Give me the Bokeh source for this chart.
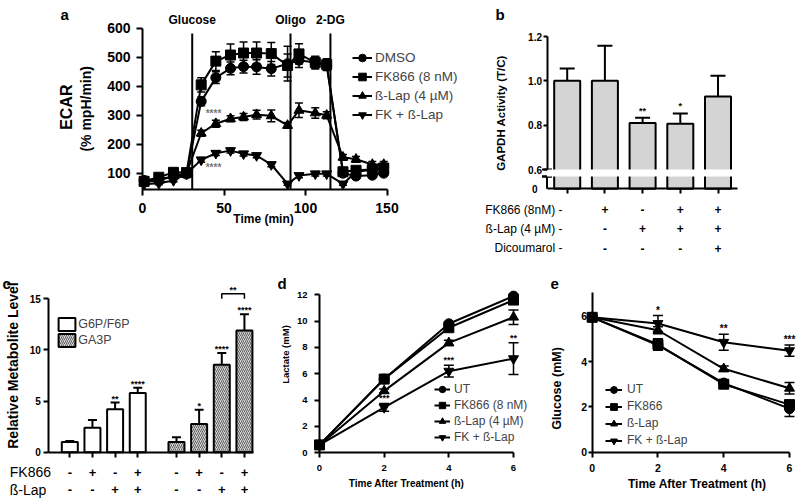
import numpy as np
from math import pi
from bokeh.plotting import figure
from bokeh.models import (Range1d, Label, Legend, LegendItem, Whisker, TeeHead,
                          ColumnDataSource, FixedTicker, NumeralTickFormatter)
from bokeh.layouts import row, column
from bokeh.embed import file_html
from bokeh.resources import INLINE

FONT = "Liberation Sans"

# ---------------- data ----------------
# panel a : ECAR time course
a_time = [1, 10, 19, 27, 36, 45, 54, 62, 70, 79, 89, 96, 106, 113, 123, 131, 141, 148]
a_dmso = [75, 80, 88, 97, 348, 430, 462, 468, 467, 461, 478, 490, 482, 472, 100, 90, 93, 100]
a_dmso_err = [8, 8, 8, 5, 15, 20, 22, 22, 25, 25, 60, 25, 20, 15, 8, 8, 8, 8]
a_fk = [72, 86, 103, 102, 405, 487, 508, 515, 515, 513, 472, 512, 482, 475, 105, 110, 113, 118]
a_fk_err = [8, 10, 8, 5, 25, 32, 38, 38, 38, 38, 40, 35, 22, 20, 12, 10, 10, 10]
a_blap = [70, 75, 90, 100, 238, 271, 288, 294, 302, 298, 265, 317, 308, 300, 155, 148, 130, 130]
a_blap_err = [5, 5, 5, 5, 10, 12, 10, 12, 15, 20, 10, 25, 18, 12, 10, 10, 10, 10]
a_fkbl = [62, 65, 75, 98, 146, 169, 178, 167, 161, 130, 63, 92, 98, 98, 63, 105, 112, 118]
a_fkbl_err = [5, 5, 5, 5, 8, 8, 8, 8, 8, 8, 5, 8, 8, 8, 5, 5, 5, 5]
a_labels = ["DMSO", "FK866 (8 nM)", "\u00df-Lap (4 \u00b5M)", "FK + \u00df-Lap"]
a_inject_time = [30.5, 90.8, 115.3]
a_inject_name = ["Glucose", "Oligo", "2-DG"]
a_xticks = [0, 50, 100, 150]
a_yticks = [100, 200, 300, 400, 500, 600]

# panel b : GAPDH activity
b_vals = [1.0, 1.0, 0.81, 0.806, 0.929]
b_err = [0.056, 0.158, 0.023, 0.047, 0.094]
b_stars = ["", "", "**", "*", ""]
b_rows = ["FK866 (8nM)", "\u00df-Lap (4 \u00b5M)", "Dicoumarol"]
b_signs = [["-", "+", "-", "+", "+"],
           ["-", "-", "+", "+", "+"],
           ["-", "-", "-", "-", "+"]]
b_yticks = [0.6, 0.8, 1.0, 1.2]

# panel c : metabolites
c_groups = ["G6P/F6P", "GA3P"]
c_g6p = [1.0, 2.4, 4.2, 5.8]
c_g6p_err = [0.1, 0.75, 0.65, 0.5]
c_ga3p = [1.0, 2.75, 8.55, 11.9]
c_ga3p_err = [0.45, 1.4, 1.15, 1.6]
c_stars = ["", "", "**", "****", "", "*", "****", "****"]
c_rows = ["FK866", "\u00df-Lap"]
c_signs = [["-", "+", "-", "+", "-", "+", "-", "+"],
           ["-", "-", "+", "+", "-", "-", "+", "+"]]
c_yticks = [0, 5, 10, 15]

# panel d : lactate
d_time = [0, 2, 4, 6]
d_ut = [0.6, 5.6, 9.8, 11.9]
d_ut_err = [0.1, 0.15, 0.15, 0.15]
d_fk = [0.6, 5.6, 9.5, 11.6]
d_fk_err = [0.1, 0.15, 0.15, 0.15]
d_blap = [0.6, 4.7, 8.35, 10.3]
d_blap_err = [0.1, 0.15, 0.2, 0.55]
d_fkbl = [0.6, 3.45, 6.2, 7.15]
d_fkbl_err = [0.1, 0.3, 0.45, 1.2]
d_stars = ["", "***", "***", "**"]
d_labels = ["UT", "FK866 (8 nM)", "\u00df-Lap (4 \u00b5M)", "FK + \u00df-Lap"]
d_yticks = [0, 2, 4, 6, 8, 10, 12]

# panel e : glucose
e_time = [0, 2, 4, 6]
e_ut = [5.95, 4.72, 3.05, 1.92]
e_ut_err = [0.05, 0.2, 0.15, 0.35]
e_fk = [5.95, 4.75, 3.0, 2.1]
e_fk_err = [0.05, 0.25, 0.15, 0.15]
e_blap = [5.95, 5.38, 3.68, 2.82]
e_blap_err = [0.05, 0.15, 0.12, 0.25]
e_fkbl = [5.95, 5.68, 4.85, 4.48]
e_fkbl_err = [0.05, 0.35, 0.35, 0.25]
e_stars = ["", "*", "**", "***"]
e_labels = ["UT", "FK866", "\u00df-Lap", "FK + \u00df-Lap"]
e_yticks = [0, 2, 4, 6]
time_xticks = [0, 2, 4, 6]

MARKERS = ["circle", "square", "triangle", "inverted_triangle"]


# ---------------- helpers ----------------
def lin(pa, va, pb, vb):
    k = (vb - va) / (pb - pa)
    return lambda px: va + (px - pa) * k


def make_fig(ox, oy, W, H, mx, my):
    # plotting frame covers the whole canvas; axes sit at fixed data locations
    p = figure(width=W, height=H,
               x_range=Range1d(mx(ox), mx(ox + W)), y_range=Range1d(my(oy + H), my(oy)),
               min_border_left=0, min_border_top=0, min_border_right=0, min_border_bottom=0,
               output_backend="svg", toolbar_location=None, tools="")
    p.outline_line_color = None
    p.xgrid.visible = False
    p.ygrid.visible = False
    p.background_fill_color = "white"
    p.border_fill_color = "white"
    return p


def style_axis(ax, ticks, size, tick_out, standoff, loc, bounds, show_labels=True):
    ax.fixed_location = loc
    ax.bounds = bounds
    ax.ticker = FixedTicker(ticks=list(ticks))
    ax.axis_line_width = 2
    ax.axis_line_color = "black"
    ax.major_tick_line_width = 2
    ax.major_tick_line_color = "black"
    ax.major_tick_out = tick_out
    ax.major_tick_in = 0
    ax.minor_tick_line_color = None
    ax.major_label_text_font = FONT
    ax.major_label_text_font_size = size
    ax.major_label_text_font_style = "bold"
    ax.major_label_text_color = "black" if show_labels else None
    ax.major_label_standoff = standoff


def put(p, x, y, text, size, bold=False, align="center", baseline="middle",
        angle=0.0, color="black", y_offset=0):
    p.add_layout(Label(x=x, y=y, text=text, text_font=FONT, text_font_size=size,
                       text_font_style="bold" if bold else "normal",
                       text_align=align, text_baseline=baseline, angle=angle,
                       text_color=color, y_offset=y_offset))


def whisker(p, x, lo, hi, head, lw=1.5, lower_head=True, line=True):
    src = ColumnDataSource(dict(x=list(x), lo=list(lo), hi=list(hi)))
    p.add_layout(Whisker(source=src, base="x", lower="lo", upper="hi",
                         line_width=lw, line_color="black" if line else None,
                         upper_head=TeeHead(size=head, line_width=lw, line_color="black"),
                         lower_head=TeeHead(size=head, line_width=lw, line_color="black") if lower_head else None))


def series(p, x, y, err, marker, size, head):
    whisker(p, x, [v - e for v, e in zip(y, err)], [v + e for v, e in zip(y, err)], head)
    src = ColumnDataSource(dict(x=list(x), y=list(y)))
    lr = p.line("x", "y", source=src, line_width=2, line_color="black")
    sr = p.scatter("x", "y", source=src, marker=marker, size=size,
                   fill_color="black", line_color="black")
    return [lr, sr]


def legend(p, labels, renderers, vx, vy, gw, gh, standoff, size, label_h=12):
    lg = Legend(items=[LegendItem(label=l, renderers=r) for l, r in zip(labels, renderers)],
                location=(vx, vy), orientation="vertical",
                glyph_width=gw, glyph_height=gh, label_height=label_h, label_width=10,
                spacing=0, padding=0, margin=0, label_standoff=standoff,
                label_text_font=FONT, label_text_font_size=size,
                border_line_color=None, background_fill_alpha=0)
    p.add_layout(lg)


TOP_H = 256          # height of the upper row of panels
BOT_H = 499 - TOP_H  # height of the lower row of panels

# ---------------- panel a ----------------
AX, AY, AW, AH = 0, 0, 470, TOP_H
mx = lin(142, 0, 386.5, 150)
my = lin(172.7, 100, 27.9, 600)
pa = make_fig(AX, AY, AW, AH, mx, my)
a_ybase = my(189.3)
style_axis(pa.yaxis[0], a_yticks, "14px", 6, 6, 0, (a_ybase, 600))
style_axis(pa.xaxis[0], a_xticks, "14px", 6, 7, a_ybase, (0, 150))
pa.segment(x0=a_inject_time, x1=a_inject_time, y0=[a_ybase] * 3, y1=[my(33)] * 3,
           line_width=2, line_color="black")
for t, name in zip(a_inject_time, a_inject_name):
    put(pa, t, my(19), name, "12px", bold=True)
rend_a = []
for vals, errs, mk in zip([a_dmso, a_fk, a_blap, a_fkbl],
                          [a_dmso_err, a_fk_err, a_blap_err, a_fkbl_err], MARKERS):
    rend_a.append(series(pa, a_time, vals, errs, mk, 10, 8))
legend(pa, a_labels, rend_a, 352 - AX, AY + AH - 123.8, 20, 19, 3, "13.5px")
put(pa, mx(213), my(113), "****", "10px", bold=True, color="#777777")
put(pa, mx(213), my(167), "****", "10px", bold=True, color="#777777")
put(pa, mx(65.8), my(106.7), "ECAR", "16px", bold=True, angle=pi / 2)
put(pa, mx(85), my(108.3), "(% mpH/min)", "14px", bold=True, angle=pi / 2)
put(pa, mx(263), my(218.5), "Time (min)", "12px", bold=True)
put(pa, mx(60), my(13.5), "a", "15px", bold=True, align="left", baseline="alphabetic")

# ---------------- panel b ----------------
BX, BY, BW, BH = 470, 0, 329, TOP_H
mx = lin(566.7, 0, 604.4, 1)
my = lin(169, 0.6, 36, 1.2)
pb = make_fig(BX, BY, BW, BH, mx, my)
bx = list(range(len(b_vals)))
bx0, bx1 = mx(546.5), mx(737)
y0b, gapb = my(188.3), my(176)
pb.vbar(x=bx, top=b_vals, bottom=y0b, width=0.69, fill_color="#d4d4d4",
        line_color="black", line_width=2)
whisker(pb, bx, b_vals, [v + e for v, e in zip(b_vals, b_err)], 15, lw=2, lower_head=False)
pb.quad(left=[bx0], right=[bx1], bottom=[gapb], top=[0.6],
        fill_color="white", line_color=None)
style_axis(pb.yaxis[0], b_yticks, "10px", 4, 1, bx0, (0.6, 1.2))
pb.yaxis[0].formatter = NumeralTickFormatter(format="0.0")
style_axis(pb.xaxis[0], bx, "10px", 5, 2, y0b, (bx0, bx1), show_labels=False)
whisker(pb, [bx0], [gapb], [0.6], 10, lw=2, line=False)
whisker(pb, [bx0], [y0b], [gapb], 10, lw=2, lower_head=False)
put(pb, mx(537), y0b, "0", "10px", bold=True, align="right")
for i, s in enumerate(b_stars):
    if s:
        put(pb, bx[i], b_vals[i] + b_err[i], s, "9px", bold=True, baseline="bottom", y_offset=2)
put(pb, mx(500), my(112.5), "GAPDH Activity (T/C)", "11.5px", bold=True, angle=pi / 2)
for r, (name, signs) in enumerate(zip(b_rows, b_signs)):
    yy = my([209, 228.3, 247.5][r])
    put(pb, mx(562), yy, name + " " + signs[0], "12px", align="right")
    for i in range(1, len(signs)):
        put(pb, bx[i], yy, signs[i], "12px", bold=True)
put(pb, mx(495), my(14), "b", "15px", bold=True, align="left", baseline="alphabetic")

# ---------------- panel c ----------------
CX, CY, CW, CH = 0, TOP_H, 262, BOT_H
mx = lin(69.3, 0, 91.95, 1)
my = lin(451.7, 0, 298.3, 15)
pc = make_fig(CX, CY, CW, CH, mx, my)
gx1 = list(np.arange(len(c_g6p)) * 1.0)
gx2 = list(np.arange(len(c_ga3p)) + 4.71)
cx0, cx1 = mx(48.3), mx(253.3)
r1 = pc.vbar(x=gx1, top=c_g6p, bottom=0, width=0.706, fill_color="white",
             line_color="black", line_width=2)
r2 = pc.vbar(x=gx2, top=c_ga3p, bottom=0, width=0.706, fill_color="#d2d2d2",
             hatch_pattern="/", hatch_color="#444444", hatch_scale=4, hatch_weight=0.8,
             line_color="black", line_width=2)
whisker(pc, gx1, c_g6p, [v + e for v, e in zip(c_g6p, c_g6p_err)], 9, lw=2, lower_head=False)
whisker(pc, gx2, c_ga3p, [v + e for v, e in zip(c_ga3p, c_ga3p_err)], 9, lw=2, lower_head=False)
cx = gx1 + gx2
style_axis(pc.yaxis[0], c_yticks, "10px", 5, 3, cx0, (0, 15))
style_axis(pc.xaxis[0], cx, "10px", 5, 2, 0, (cx0, cx1), show_labels=False)
c_tops = [v + e for v, e in zip(c_g6p + c_ga3p, c_g6p_err + c_ga3p_err)]
for i, s in enumerate(c_stars):
    if s:
        put(pc, cx[i], c_tops[i], s, "9px", bold=True, baseline="bottom", y_offset=-1)
pc.line(x=[cx[6], cx[6], cx[7], cx[7]], y=[15.0, 15.5, 15.5, 15.0],
        line_width=1.5, line_color="black")
put(pc, (cx[6] + cx[7]) / 2, 15.5, "**", "9px", bold=True, baseline="bottom", y_offset=-1)
legend(pc, c_groups, [[r1], [r2]], 56.2 - CX, CY + CH - 348.3, 21, 16, 1, "12.5px", label_h=16)
for r, (name, signs) in enumerate(zip(c_rows, c_signs)):
    yy = my([471.7, 489.3][r])
    put(pc, mx(9.3), yy, name, "14px", align="left")
    for i, s in enumerate(signs):
        put(pc, cx[i], yy, s, "13px", bold=True)
put(pc, mx(12.5), my(365), "Relative Metabolite Level", "14px", bold=True, angle=pi / 2)
put(pc, mx(2), my(282.5), "c", "15px", bold=True, align="left", baseline="alphabetic")

# ---------------- panel d ----------------
DX, DY, DW, DH = 262, TOP_H, 278, BOT_H
mx = lin(319, 0, 513, 6)
my = lin(452.3, 0, 294.3, 12)
pd_ = make_fig(DX, DY, DW, DH, mx, my)
style_axis(pd_.yaxis[0], d_yticks, "9.5px", 5, 7, 0, (0, 12))
style_axis(pd_.xaxis[0], time_xticks, "9.5px", 5, 7, 0, (0, 6))
rend_d = []
for vals, errs, mk in zip([d_ut, d_fk, d_blap, d_fkbl],
                          [d_ut_err, d_fk_err, d_blap_err, d_fkbl_err], MARKERS):
    rend_d.append(series(pd_, d_time, vals, errs, mk, 10, 10))
legend(pd_, d_labels, rend_d, 434 - DX, DY + DH - 445, 16, 16, 4, "12px")
for i, s in enumerate(d_stars):
    if s:
        put(pd_, d_time[i], d_fkbl[i] + d_fkbl_err[i], s, "9px", bold=True, baseline="bottom")
put(pd_, mx(285), my(354), "Lactate (mM)", "9.5px", bold=True, angle=pi / 2)
put(pd_, mx(406), my(483.3), "Time After Treatment (h)", "10px", bold=True)
put(pd_, mx(277), my(283.3), "d", "15px", bold=True, align="left", baseline="alphabetic")

# ---------------- panel e ----------------
EX, EY, EW, EH = 540, TOP_H, 259, BOT_H
mx = lin(591.7, 0, 789, 6)
my = lin(451.7, 0, 315.7, 6)
pe = make_fig(EX, EY, EW, EH, mx, my)
style_axis(pe.yaxis[0], e_yticks, "10.5px", 4, 1, 0, (0, 7.06))
style_axis(pe.xaxis[0], time_xticks, "10.5px", 5, 7, 0, (0, 6))
rend_e = []
for vals, errs, mk in zip([e_ut, e_fk, e_blap, e_fkbl],
                          [e_ut_err, e_fk_err, e_blap_err, e_fkbl_err], MARKERS):
    rend_e.append(series(pe, e_time, vals, errs, mk, 10, 10))
legend(pe, e_labels, rend_e, 605 - EX, EY + EH - 448.8, 17, 17, 5, "12px")
for i, s in enumerate(e_stars):
    if s:
        put(pe, e_time[i], e_fkbl[i] + e_fkbl_err[i], s, "10px", bold=True, baseline="bottom")
put(pe, mx(556.7), my(388), "Glucose (mM)", "12.5px", bold=True, angle=pi / 2)
put(pe, mx(696.7), my(483.3), "Time After Treatment (h)", "12px", bold=True)
put(pe, mx(550), my(283), "e", "15px", bold=True, align="left", baseline="alphabetic")

layout = column(row(pa, pb), row(pc, pd_, pe))
open("out.html", "w").write(file_html(layout, INLINE))
